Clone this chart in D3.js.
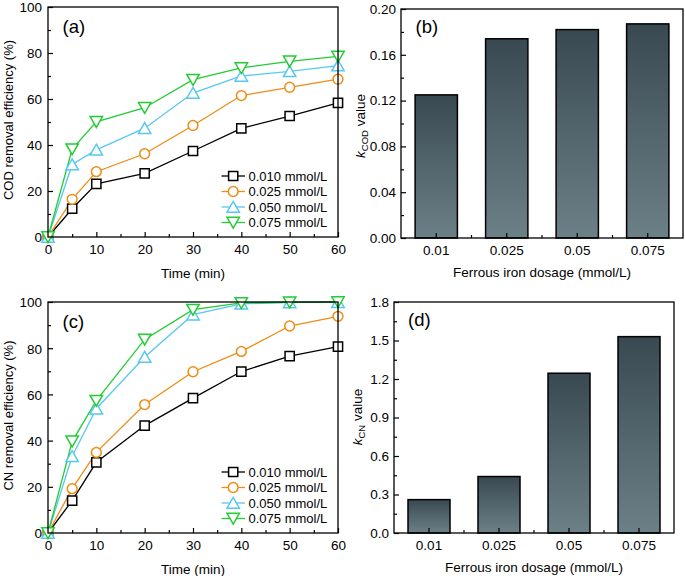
<!DOCTYPE html>
<html><head><meta charset="utf-8">
<script src="https://cdn.jsdelivr.net/npm/d3@7"></script>
<style>
body{margin:0;background:#fff;}
svg{display:block;font-family:"Liberation Sans",Arial,sans-serif;}
</style></head>
<body>
<svg id="chart" width="685" height="576"></svg>
<script>
// ---------- DATA ----------
const times = [0, 5, 10, 20, 30, 40, 50, 60];
const seriesNames = ["0.010 mmol/L", "0.025 mmol/L", "0.050 mmol/L", "0.075 mmol/L"];
const codS1 = [0, 12.3, 23.1, 27.7, 37.4, 47.2, 52.6, 58.3];
const codS2 = [0, 16.4, 28.4, 36.2, 48.5, 61.5, 65.1, 68.6];
const codS3 = [0, 31.5, 37.9, 47.3, 62.6, 70.0, 72.0, 74.5];
const codS4 = [0, 38.2, 50.1, 56.2, 68.4, 73.5, 76.4, 78.5];
const cnS1 = [0, 14.0, 30.6, 46.5, 58.4, 69.9, 76.6, 80.7];
const cnS2 = [0, 19.2, 34.9, 55.6, 69.8, 78.6, 89.6, 93.8];
const cnS3 = [0, 33.2, 53.8, 76.2, 94.5, 99.2, 99.8, 99.9];
const cnS4 = [0, 39.7, 57.3, 83.8, 96.7, 99.6, 99.9, 100];
const dosages = ["0.01", "0.025", "0.05", "0.075"];
const kCOD = [0.125, 0.174, 0.182, 0.187];
const kCN = [0.26, 0.44, 1.245, 1.53];
const lineXTicks = [0, 10, 20, 30, 40, 50, 60];
const lineYTicks = [0, 20, 40, 60, 80, 100];
const kcodTicks = [0, 0.04, 0.08, 0.12, 0.16, 0.20];
const kcnTicks = [0, 0.3, 0.6, 0.9, 1.2, 1.5, 1.8];

const colors = ["#000000", "#ee8c14", "#58c8f0", "#22cc33"];
const shapes = ["square", "circle", "triUp", "triDown"];

const svg = d3.select("#chart");
const FONT = 13.5;

// gradient for bars
const defs = svg.append("defs");
const grad = defs.append("linearGradient").attr("id", "barGrad")
  .attr("x1", 0).attr("y1", 0).attr("x2", 0).attr("y2", 1);
grad.append("stop").attr("offset", "0%").attr("stop-color", "#394951");
grad.append("stop").attr("offset", "100%").attr("stop-color", "#6c8088");

function markerPath(shape) {
  if (shape === "square") return "M-4.6,-4.6H4.6V4.6H-4.6Z";
  if (shape === "circle") return d3.symbol(d3.symbolCircle, Math.PI * 4.9 * 4.9)();
  if (shape === "triUp") return "M0,-5.6L6.2,5.2L-6.2,5.2Z";
  return "M0,5.6L6.2,-5.2L-6.2,-5.2Z";
}

function styleAxis(sel) {
  sel.select(".domain").remove();
  sel.selectAll("line").attr("stroke", "#000").attr("stroke-width", 1.2);
  sel.selectAll("text").attr("font-size", FONT).attr("fill", "#000")
    .attr("font-family", '"Liberation Sans",Arial,sans-serif');
}

function linePanel(box, data, label, ytitle) {
  const w = box.r - box.l, h = box.b - box.t;
  const g = svg.append("g").attr("transform", `translate(${box.l},${box.t})`);
  const x = d3.scaleLinear().domain([0, 60]).range([0, w]);
  const y = d3.scaleLinear().domain([0, 100]).range([h, 0]);

  const ax = g.append("g").attr("transform", `translate(0,${h})`)
    .call(d3.axisBottom(x).tickValues(lineXTicks).tickSizeInner(-5).tickSizeOuter(0).tickPadding(7));
  styleAxis(ax);
  const axm = g.append("g").attr("transform", `translate(0,${h})`)
    .call(d3.axisBottom(x).tickValues([5, 15, 25, 35, 45, 55]).tickSizeInner(-3).tickSizeOuter(0).tickFormat(""));
  styleAxis(axm);
  const ay = g.append("g")
    .call(d3.axisLeft(y).tickValues(lineYTicks).tickSizeInner(-5).tickSizeOuter(0).tickPadding(6));
  styleAxis(ay);
  ay.selectAll("text").attr("dy", "0.36em");
  const aym = g.append("g")
    .call(d3.axisLeft(y).tickValues([10, 30, 50, 70, 90]).tickSizeInner(-3).tickSizeOuter(0).tickFormat(""));
  styleAxis(aym);

  const line = d3.line().x((d, i) => x(times[i])).y(d => y(d));
  data.forEach((s, k) => {
    g.append("path").datum(s).attr("d", line).attr("fill", "none")
      .attr("stroke", colors[k]).attr("stroke-width", 1.3);
  });
  data.forEach((s, k) => {
    g.selectAll(null).data(s).enter().append("path")
      .attr("transform", (d, i) => `translate(${x(times[i])},${y(d)})`)
      .attr("d", markerPath(shapes[k]))
      .attr("fill", "#fff").attr("stroke", colors[k]).attr("stroke-width", 1.5);
  });

  g.append("rect").attr("x", 0).attr("y", 0).attr("width", w).attr("height", h)
    .attr("fill", "none").attr("stroke", "#000").attr("stroke-width", 1.3);

  const lg = g.append("g");
  const rowY = [h - 61, h - 45.5, h - 30, h - 14.5];
  seriesNames.forEach((nm, k) => {
    const yy = rowY[k];
    lg.append("line").attr("x1", 173.5).attr("x2", 197).attr("y1", yy).attr("y2", yy)
      .attr("stroke", colors[k]).attr("stroke-width", 1.3);
    lg.append("path").attr("transform", `translate(185.2,${yy})`).attr("d", markerPath(shapes[k]))
      .attr("fill", "#fff").attr("stroke", colors[k]).attr("stroke-width", 1.5);
    lg.append("text").attr("x", 200.5).attr("y", yy).attr("dy", "0.36em")
      .attr("font-size", 13).attr("fill", "#000").text(nm);
  });

  g.append("text").attr("x", 14.5).attr("y", 26).attr("font-size", 18.5).attr("fill", "#000").text(label);

  g.append("text").attr("x", w / 2).attr("y", h + 41).attr("text-anchor", "middle")
    .attr("font-size", FONT).attr("fill", "#000").text("Time (min)");
  g.append("text").attr("transform", `translate(${-35},${h / 2 - 2}) rotate(-90)`)
    .attr("text-anchor", "middle").attr("font-size", 13).attr("fill", "#000").text(ytitle);
}

function barPanel(box, values, ymax, yticks, fmt, label, sub, titleY) {
  const w = box.r - box.l, h = box.b - box.t;
  const g = svg.append("g").attr("transform", `translate(${box.l},${box.t})`);
  const x = d3.scaleBand().domain(dosages).range([0, w]).paddingInner(0.4).paddingOuter(0.2);
  const y = d3.scaleLinear().domain([0, ymax]).range([h, 0]);

  g.selectAll(null).data(values).enter().append("rect")
    .attr("x", (d, i) => x(dosages[i])).attr("width", x.bandwidth())
    .attr("y", d => y(d)).attr("height", d => h - y(d))
    .attr("fill", "url(#barGrad)").attr("stroke", "#000").attr("stroke-width", 1.5);

  const ax = g.append("g").attr("transform", `translate(0,${h})`)
    .call(d3.axisBottom(x).tickSizeInner(-5).tickSizeOuter(0).tickPadding(7));
  styleAxis(ax);
  const bounds = dosages.slice(1).map(dv => x(dv) - x.step() * x.paddingInner() / 2);
  g.selectAll(null).data(bounds).enter().append("line")
    .attr("x1", d => d).attr("x2", d => d).attr("y1", h).attr("y2", h - 3)
    .attr("stroke", "#000").attr("stroke-width", 1.2);

  const ay = g.append("g")
    .call(d3.axisLeft(y).tickValues(yticks).tickSizeInner(-5).tickSizeOuter(0).tickPadding(5).tickFormat(d3.format(fmt)));
  styleAxis(ay);
  const minors = d3.range(yticks.length - 1).map(i => (yticks[i] + yticks[i + 1]) / 2);
  const aym = g.append("g")
    .call(d3.axisLeft(y).tickValues(minors).tickSizeInner(-3).tickSizeOuter(0).tickFormat(""));
  styleAxis(aym);

  g.append("rect").attr("x", 0).attr("y", 0).attr("width", w).attr("height", h)
    .attr("fill", "none").attr("stroke", "#000").attr("stroke-width", 1.3);

  g.append("text").attr("x", box.lblx).attr("y", 24).attr("font-size", 18.5).attr("fill", "#000").text(label);

  g.append("text").attr("x", w / 2).attr("y", h + 39).attr("text-anchor", "middle")
    .attr("font-size", FONT).attr("fill", "#000").text("Ferrous iron dosage (mmol/L)");

  const t = g.append("text").attr("transform", `translate(${box.ytx},${titleY}) rotate(-90)`)
    .attr("text-anchor", "middle").attr("font-size", 13.5).attr("fill", "#000");
  t.append("tspan").attr("font-style", "italic").text("k");
  t.append("tspan").attr("font-size", 9.5).attr("dy", 3).text(sub);
  t.append("tspan").attr("dy", -3).text(" value");
}

linePanel({l: 48, r: 338, t: 7, b: 237}, [codS1, codS2, codS3, codS4], "(a)", "COD removal efficiency (%)");
barPanel({l: 401, r: 683, t: 9, b: 238, lblx: 14.5, ytx: -36}, kCOD, 0.20, kcodTicks, ".2f", "(b)", "COD", 117);
linePanel({l: 48, r: 338, t: 302, b: 533}, [cnS1, cnS2, cnS3, cnS4], "(c)", "CN removal efficiency (%)");
barPanel({l: 394, r: 674, t: 302, b: 533, lblx: 14, ytx: -32}, kCN, 1.8, kcnTicks, ".1f", "(d)", "CN", 115);
</script>
</body></html>
